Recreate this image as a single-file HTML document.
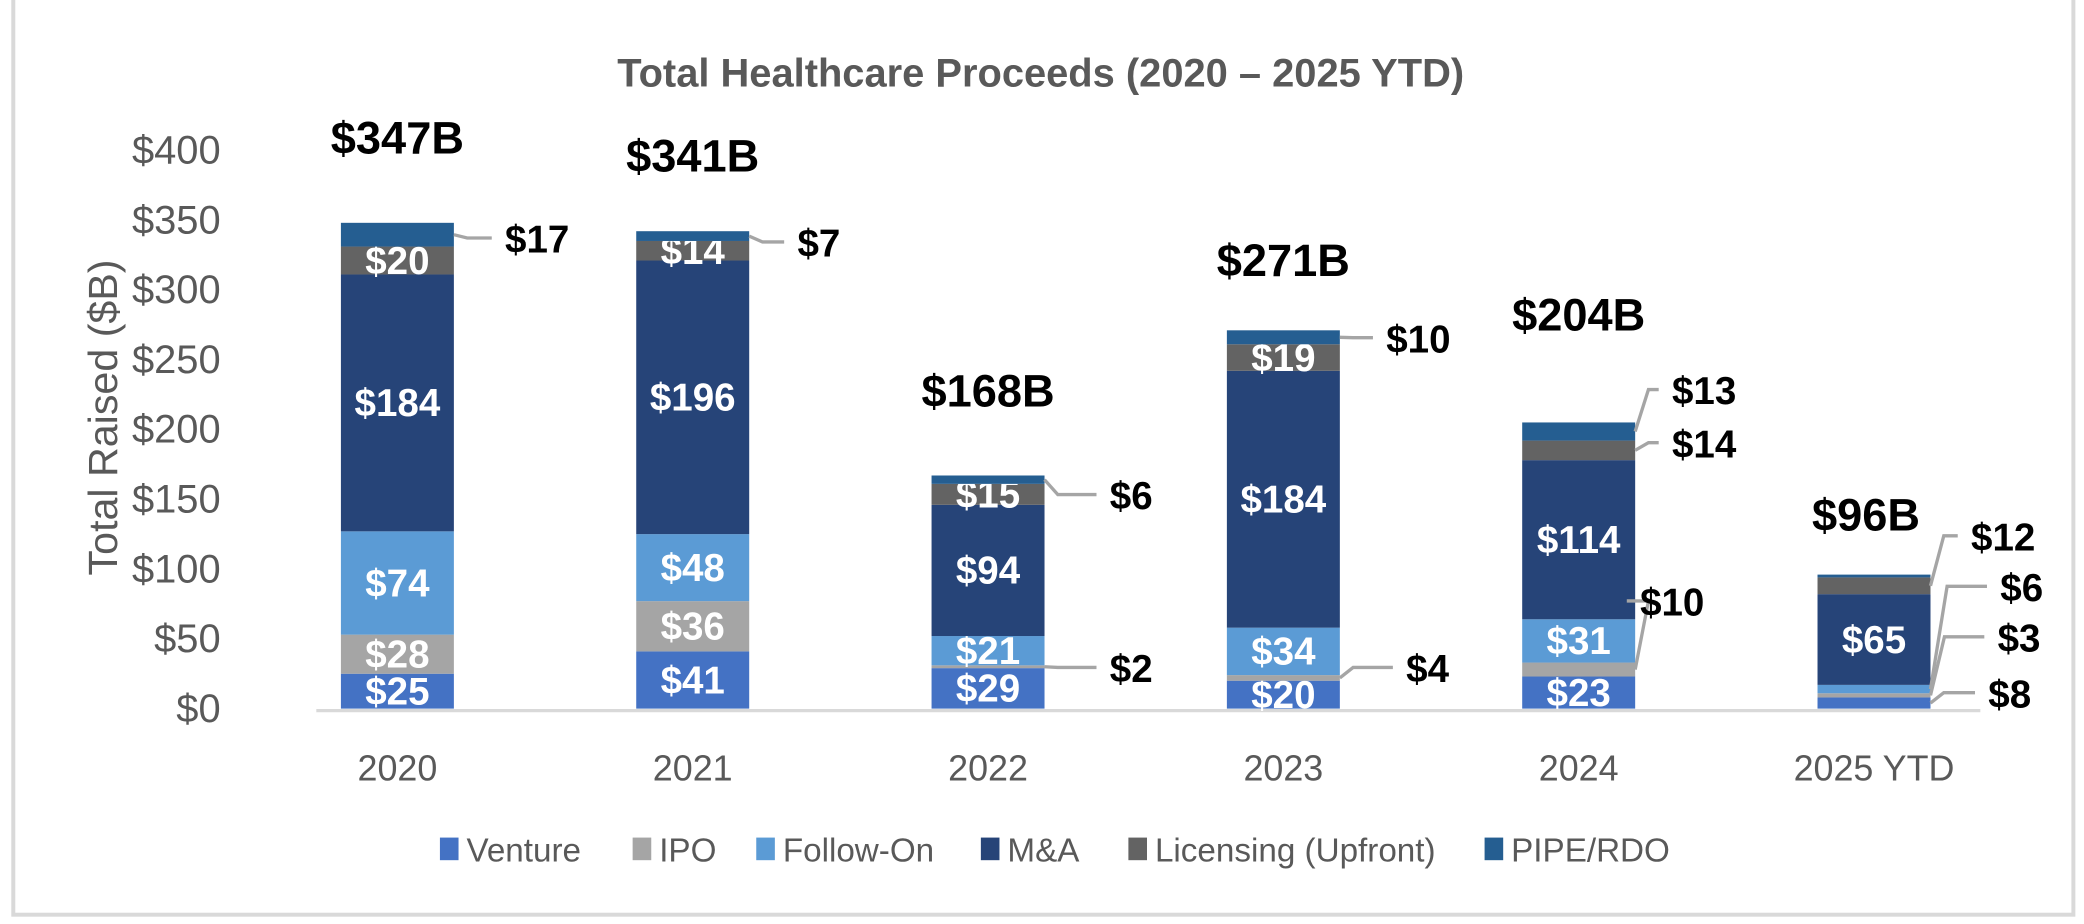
<!DOCTYPE html>
<html><head><meta charset="utf-8">
<style>
html,body{margin:0;padding:0;background:#fff;}
svg{display:block;}
text{font-family:"Liberation Sans",sans-serif;}
</style></head>
<body>
<svg id="chart" width="2084" height="924" viewBox="0 0 1568 695" preserveAspectRatio="none" xmlns="http://www.w3.org/2000/svg">
<rect x="10" y="-5" width="1550" height="693" fill="#fff" stroke="#d9d9d9" stroke-width="3"/>
<text x="783" y="65" text-anchor="middle" font-size="30" font-weight="bold" fill="#595959">Total Healthcare Proceeds (2020 – 2025 YTD)</text>
<text transform="translate(88,314) rotate(-90)" text-anchor="middle" font-size="31" fill="#595959">Total Raised ($B)</text>
<g id="g"></g>
</svg>
<script>
const categories = ["2020","2021","2022","2023","2024","2025 YTD"];
const seriesNames = ["Venture","IPO","Follow-On","M&A","Licensing (Upfront)","PIPE/RDO"];
const venture   = [25,41,29,20,23,8];
const ipo       = [28,36,2,4,10,3];
const followOn  = [74,48,21,34,31,6];
const mna       = [184,196,94,184,114,65];
const licensing = [20,14,15,19,14,12];
const pipe      = [17,7,6,10,13,2];
const totalLabels = ["$347B","$341B","$168B","$271B","$204B","$96B"];
const yTicks = [0,50,100,150,200,250,300,350,400];
// callouts: [barIndex, seriesIndex]
const callouts = [[0,5],[1,5],[2,5],[2,1],[3,5],[3,1],[4,5],[4,4],[4,1],[5,4],[5,2],[5,1],[5,0]];

const series = [venture,ipo,followOn,mna,licensing,pipe];
const colors = ["#4472c4","#a5a5a5","#5b9bd5","#264478","#636363","#255e91"];
const NS="http://www.w3.org/2000/svg";
const g=document.getElementById('g');
const y0=533, yScale=1.05;
const yPos=v=>y0-v*yScale;
const xPos=i=>299+i*222.2;
const barW=85;
function el(tag,attrs,parent){const e=document.createElementNS(NS,tag);for(const k in attrs)e.setAttribute(k,attrs[k]);(parent||g).appendChild(e);return e;}

yTicks.forEach(t=>{
  const e=el('text',{x:166,y:yPos(t)+10,'text-anchor':'end','font-size':30,fill:'#595959'});
  
  
  e.textContent='$'+t;
});
const base=el('line',{x1:238,x2:1490,y1:y0+1.5,y2:y0+1.5,stroke:'#d9d9d9','stroke-width':2.5});



const isCallout=(b,s)=>callouts.some(c=>c[0]===b&&c[1]===s);
const labelOffsets=[52,45,52,41,69,33];
const labelDx=[0,0,0,0,0,-6];
categories.forEach((cat,i)=>{
  let cum=0;
  const cx=xPos(i);
  series.forEach((arr,s)=>{
    const v=arr[i];
    const yt=yPos(cum+v), yb=yPos(cum);
    const r=el('rect',{x:cx-barW/2,y:yt,width:barW,height:yb-yt,fill:colors[s]});
    
    
    if(!isCallout(i,s) && v>=5){
      const t=el('text',{x:cx,y:(yt+yb)/2+10,'text-anchor':'middle','font-size':29,'font-weight':'bold',fill:'#fff'});
      
      
      t.textContent='$'+v;
    }
    cum+=v;
  });
  const tl=el('text',{x:cx+labelDx[i],y:yPos(cum)-labelOffsets[i],'text-anchor':'middle','font-size':34,'font-weight':'bold',fill:'#000'});
  
  
  tl.textContent=totalLabels[i];
  const xl=el('text',{x:cx,y:587,'text-anchor':'middle','font-size':27,fill:'#595959'});
  
  
  xl.textContent=cat;
});

// callout label positions (layout)
const calloutPos=[[380,190],[600,193],[835,383],[835,513],[1043,265],[1058,513],[1258,304],[1258,344],[1234,463],[1483,414],[1505,452],[1503,490],[1496,532]];
callouts.forEach((c,k)=>{
  const [b,s]=c;
  let cum=0;for(let q=0;q<s;q++)cum+=series[q][b];
  const v=series[s][b];
  const my=(yPos(cum)+yPos(cum+v))/2;
  const ex=xPos(b)+barW/2;
  const [lx,ly]=calloutPos[k];
  const ey=ly-11;
  const elbow=Math.max(ex+10,lx-40);
  const p=el('polyline',{points:`${ex},${my} ${elbow},${ey} ${lx-10},${ey}`,fill:'none',stroke:'#a5a5a5','stroke-width':2.5});
  
  
  const t=el('text',{x:lx,y:ly,'font-size':29,'font-weight':'bold',fill:'#000'});
  
  
  t.textContent='$'+v;
});

const legendX=[331,476,569,738,849,1117];
seriesNames.forEach((n,s)=>{
  const r=el('rect',{x:legendX[s],y:630,width:14,height:17,fill:colors[s]});
  
  
  const t=el('text',{x:legendX[s]+20,y:648,'font-size':25,fill:'#595959'});
  
  
  t.textContent=n;
});
</script>
</body></html>
